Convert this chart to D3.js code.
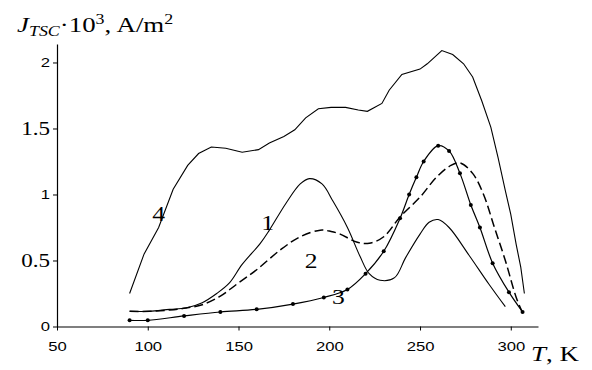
<!DOCTYPE html>
<html>
<head>
<meta charset="utf-8">
<script src="https://cdn.jsdelivr.net/npm/d3@7"></script>
<style>
  body { margin: 0; background: #fff; }
  svg { display: block; }
</style>
</head>
<body>
<div id="chart"></div>
<script>
// curve 1 (solid)
const temp1 = [90, 101, 112, 121, 130, 138, 145, 152, 162, 167, 176, 184, 189, 196, 202, 210, 217, 222, 228, 236, 242, 250, 255, 260, 266, 277, 288, 297];
const j1 = [0.115, 0.115, 0.13, 0.14, 0.18, 0.25, 0.33, 0.47, 0.63, 0.73, 0.93, 1.08, 1.12, 1.08, 0.95, 0.75, 0.53, 0.40, 0.35, 0.37, 0.52, 0.70, 0.79, 0.81, 0.75, 0.54, 0.32, 0.15];

// curve 2 (dashed)
const temp2 = [90, 101, 112, 121, 130, 140, 149, 160, 173, 184, 195, 201, 206, 215, 222, 230, 239, 250, 259, 267, 272, 279, 285, 291, 297, 303, 306];
const j2 = [0.115, 0.115, 0.125, 0.14, 0.165, 0.23, 0.32, 0.43, 0.58, 0.68, 0.73, 0.72, 0.70, 0.64, 0.63, 0.68, 0.83, 0.98, 1.13, 1.22, 1.24, 1.16, 1.0, 0.75, 0.50, 0.22, 0.12];

// curve 3 (with dots)
const temp3 = [90, 100, 120, 140, 160, 180, 197, 210, 220, 230, 239, 244, 248, 252, 260, 266, 272, 278, 283, 290, 299, 306.5];
const j3 = [0.047, 0.047, 0.08, 0.11, 0.13, 0.17, 0.22, 0.28, 0.40, 0.57, 0.82, 1.0, 1.13, 1.25, 1.37, 1.33, 1.16, 0.92, 0.75, 0.48, 0.26, 0.11];

// curve 4 (solid, ragged)
const temp4 = [90, 98, 106, 114, 122, 128, 135, 143, 152, 161, 167, 175, 181, 187, 194, 201, 209, 216, 221, 229, 233, 240, 250, 254, 262, 268, 274, 279, 284, 289, 293, 297, 300, 303, 305.5, 307.5];
const j4 = [0.25, 0.55, 0.75, 1.04, 1.22, 1.31, 1.36, 1.35, 1.32, 1.34, 1.39, 1.44, 1.49, 1.58, 1.65, 1.66, 1.66, 1.64, 1.63, 1.69, 1.79, 1.91, 1.95, 1.99, 2.09, 2.06, 1.99, 1.89, 1.71, 1.51, 1.28, 1.03, 0.85, 0.62, 0.45, 0.25];

const xTicks = [50, 100, 150, 200, 250, 300];
const yTicks = [0, 0.5, 1, 1.5, 2];

// curve number labels: [text, T, J]
const curveLabels = [["4", 106, 0.8], ["1", 166, 0.73], ["2", 190, 0.44], ["3", 205, 0.17]];

const width = 592, height = 370;
const serif = "'Liberation Serif', 'Times New Roman', serif";
const sans = "'Liberation Sans', Arial, sans-serif";
// the source picture is stretched sideways, text included
const sx = 1.28;

const x = d3.scaleLinear().domain([50, 315]).range([57, 538]);
const y = d3.scaleLinear().domain([0, 2.14]).range([326.5, 44]);

const svg = d3.select("#chart").append("svg")
    .attr("width", width)
    .attr("height", height);

// axes
const xAxis = g => g
    .attr("transform", `translate(0,${y(0)})`)
    .call(d3.axisBottom(x).tickValues(xTicks).tickSize(4).tickSizeOuter(0).tickFormat(d3.format("d")))
    .call(g => g.selectAll("text")
        .attr("font-family", sans).attr("font-size", 13).attr("dy", "1.35em")
        .attr("transform", `scale(${sx},1)`));

const yAxis = g => g
    .attr("transform", `translate(${x(50)},0)`)
    .call(d3.axisLeft(y).tickValues(yTicks).tickSize(4).tickSizeOuter(0).tickFormat(d => d % 1 === 0 ? d3.format("d")(d) : d3.format(".1f")(d)))
    .call(g => g.selectAll(".tick text")
        .attr("x", -7 / sx)
        .attr("transform", `scale(${sx},1)`)
        .attr("font-family", d => d % 1 === 0 ? sans : serif)
        .attr("font-size", d => d % 1 === 0 ? 13 : 18));

svg.append("g").call(xAxis)
    .call(g => g.select(".domain").attr("stroke", "#000").attr("stroke-width", 1.2));
svg.append("g").call(yAxis)
    .call(g => g.select(".domain").attr("stroke", "#000").attr("stroke-width", 1.2));
svg.selectAll(".tick text").attr("fill", "#000");

const line = d3.line()
    .x(d => x(d[0]))
    .y(d => y(d[1]));

const zip = (a, b) => a.map((t, i) => [t, b[i]]);

svg.append("path")
    .datum(zip(temp4, j4))
    .attr("fill", "none").attr("stroke", "#000").attr("stroke-width", 1.1)
    .attr("d", line.curve(d3.curveLinear));

svg.append("path")
    .datum(zip(temp1, j1))
    .attr("fill", "none").attr("stroke", "#000").attr("stroke-width", 1.1)
    .attr("d", line.curve(d3.curveCatmullRom));

svg.append("path")
    .datum(zip(temp2, j2))
    .attr("fill", "none").attr("stroke", "#000").attr("stroke-width", 1.5)
    .attr("stroke-dasharray", "9,4")
    .attr("d", line.curve(d3.curveCatmullRom));

const pts3 = zip(temp3, j3);
svg.append("path")
    .datum(pts3)
    .attr("fill", "none").attr("stroke", "#000").attr("stroke-width", 1.2)
    .attr("d", line.curve(d3.curveCatmullRom));

svg.append("g").selectAll("circle")
    .data(pts3)
    .join("circle")
    .attr("cx", d => x(d[0]))
    .attr("cy", d => y(d[1]))
    .attr("r", 2)
    .attr("fill", "#000");

// curve numbers
svg.append("g").selectAll("text")
    .data(curveLabels)
    .join("text")
    .attr("transform", d => `translate(${x(d[1])},${y(d[2])}) scale(${sx},1)`)
    .attr("text-anchor", "middle")
    .attr("font-family", serif)
    .attr("font-size", 20)
    .text(d => d[0]);

// axis titles
const yTitle = svg.append("text")
    .attr("transform", `translate(17,32) scale(${sx},1)`)
    .attr("font-family", serif).attr("font-size", 21);
yTitle.append("tspan").attr("font-style", "italic").text("J");
yTitle.append("tspan").attr("font-style", "italic").attr("font-size", 14).attr("dy", 4).text("TSC");
yTitle.append("tspan").attr("dy", -4).text("·10");
yTitle.append("tspan").attr("font-size", 14).attr("dy", -8).text("3");
yTitle.append("tspan").attr("dy", 8).text(", A/m");
yTitle.append("tspan").attr("font-size", 14).attr("dy", -8).text("2");

const xTitle = svg.append("text")
    .attr("transform", `translate(531,361) scale(${sx},1)`)
    .attr("font-family", serif).attr("font-size", 21);
xTitle.append("tspan").attr("font-style", "italic").text("T");
xTitle.append("tspan").text(", K");
</script>
</body>
</html>
